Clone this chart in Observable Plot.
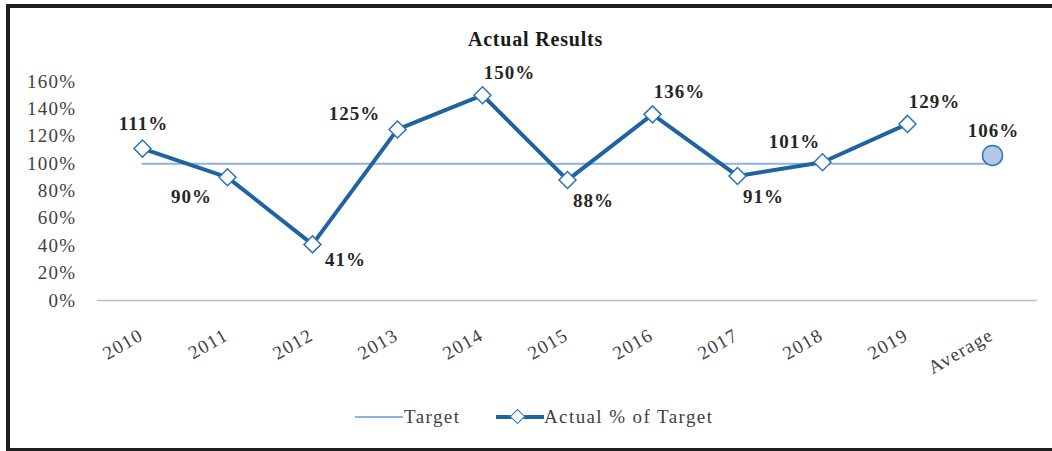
<!DOCTYPE html>
<html>
<head>
<meta charset="utf-8">
<script src="https://cdn.jsdelivr.net/npm/d3@7"></script>
<script src="https://cdn.jsdelivr.net/npm/@observablehq/plot@0.6"></script>
<style>
  html, body { margin: 0; padding: 0; background: #fff; overflow: hidden; width: 1052px; height: 451px; }
  #frame { position: absolute; left: 6px; top: 4px; width: 1100px; height: 440px; border: 4px solid #1e1e1e; border-right: none; }
  #chart { position: absolute; left: 0; top: 0; }
  #chart svg { font-family: "Liberation Serif", "Times New Roman", serif; }
  .ylab text { letter-spacing: 1.3px; }
  .xlab text { letter-spacing: 1.2px; }
  .dlab text { letter-spacing: 1px; }
  .ttl text { letter-spacing: 0.8px; }
  #legend { position: absolute; left: 0; top: 404px; width: 1052px; height: 26px;
            font-family: "Liberation Serif", "Times New Roman", serif; font-size: 19px; color: #404040; letter-spacing: 1.4px; }
  .lg { position: absolute; top: 0; line-height: 26px; white-space: nowrap; }
  .sw { position: absolute; }
</style>
</head>
<body>
<div id="frame"></div>
<div id="chart"></div>
<div id="legend">
  <div class="sw" style="left:355px; top:12px; width:48px; height:2px; background:#8db3e2;"></div>
  <div class="lg" style="left:404px;">Target</div>
  <div class="sw" style="left:496px; top:11px; width:48px; height:4px; background:#1f63a1;"></div>
  <div class="sw" style="left:512px; top:7px; width:9px; height:9px; background:#fff; border:1.5px solid #2e75b6; transform: rotate(45deg);"></div>
  <div class="lg" style="left:544px;">Actual % of Target</div>
</div>
<script>
const categories = ["2010","2011","2012","2013","2014","2015","2016","2017","2018","2019","Average"];
const years = ["2010","2011","2012","2013","2014","2015","2016","2017","2018","2019"];
const actual = [111, 90, 41, 125, 150, 88, 136, 91, 101, 129];
const averageValue = 106;
const targetValue = 100;
const yTicks = [0, 20, 40, 60, 80, 100, 120, 140, 160];
const labelSide = ["above","below-left","right-below","left","above-right","below-right","above-right","below-right","above-left","above-right"];
const averageSide = "above";
const title = "Actual Results";

const sideOffset = {
  "above": [1, -25],
  "above-right": [27, -22],
  "below-right": [26, 21],
  "right-below": [33, 16],
  "above-left": [-28, -20],
  "below-left": [-36, 20],
  "left": [-43, -16]
};

const actualData = years.map((c, i) => ({cat: c, value: actual[i], side: labelSide[i]}));
const avgData = [{cat: "Average", value: averageValue, side: averageSide}];
const targetData = categories.map(c => ({cat: c, value: targetValue}));
const labelData = actualData.concat(avgData);

const diamond = {
  draw(ctx, size) {
    const r = Math.sqrt(size / Math.PI);
    ctx.moveTo(0, -r); ctx.lineTo(r, 0); ctx.lineTo(0, r); ctx.lineTo(-r, 0); ctx.closePath();
  }
};

const labelMarks = Object.keys(sideOffset).map(s => Plot.text(labelData.filter(d => d.side === s), {
  x: "cat", y: "value", text: d => d.value + "%", dx: sideOffset[s][0], dy: sideOffset[s][1],
  fontSize: 19, fontWeight: "bold", fill: "#262626", className: "dlab"
}));

const chart = Plot.plot({
  width: 1052,
  height: 451,
  marginLeft: 97,
  marginRight: 15,
  marginTop: 81,
  marginBottom: 151,
  style: {background: "transparent", fontFamily: "Liberation Serif, serif"},
  x: {type: "point", domain: categories, padding: 0.5, axis: null},
  y: {domain: [0, 160], axis: null},
  marks: [
    Plot.ruleY([0], {stroke: "#bfbfbf", strokeWidth: 1.5}),
    Plot.text(yTicks, {y: d => d, text: d => d + "%", frameAnchor: "left", textAnchor: "end", dx: -21,
      fontSize: 19, fill: "#404040", className: "ylab"}),
    Plot.text(categories, {x: d => d, text: d => d, frameAnchor: "bottom", textAnchor: "end", lineAnchor: "middle",
      rotate: -30, dx: -1, dy: 33, fontSize: 19, fill: "#404040", className: "xlab"}),
    Plot.line(targetData, {x: "cat", y: "value", stroke: "#8db3e2", strokeWidth: 2}),
    Plot.line(actualData, {x: "cat", y: "value", stroke: "#1f63a1", strokeWidth: 4}),
    Plot.dot(actualData, {x: "cat", y: "value", symbol: diamond, r: 8.5, fill: "white", stroke: "#2e75b6", strokeWidth: 1.5}),
    Plot.dot(avgData, {x: "cat", y: "value", r: 10, fill: "#b4c7e7", stroke: "#2e75b6", strokeWidth: 1.5}),
    ...labelMarks,
    Plot.text([title], {frameAnchor: "top", dx: -32, dy: -36, lineAnchor: "bottom", fontSize: 20, fontWeight: "bold",
      fill: "#1a1a1a", className: "ttl"})
  ]
});
document.getElementById("chart").appendChild(chart);
</script>
</body>
</html>
